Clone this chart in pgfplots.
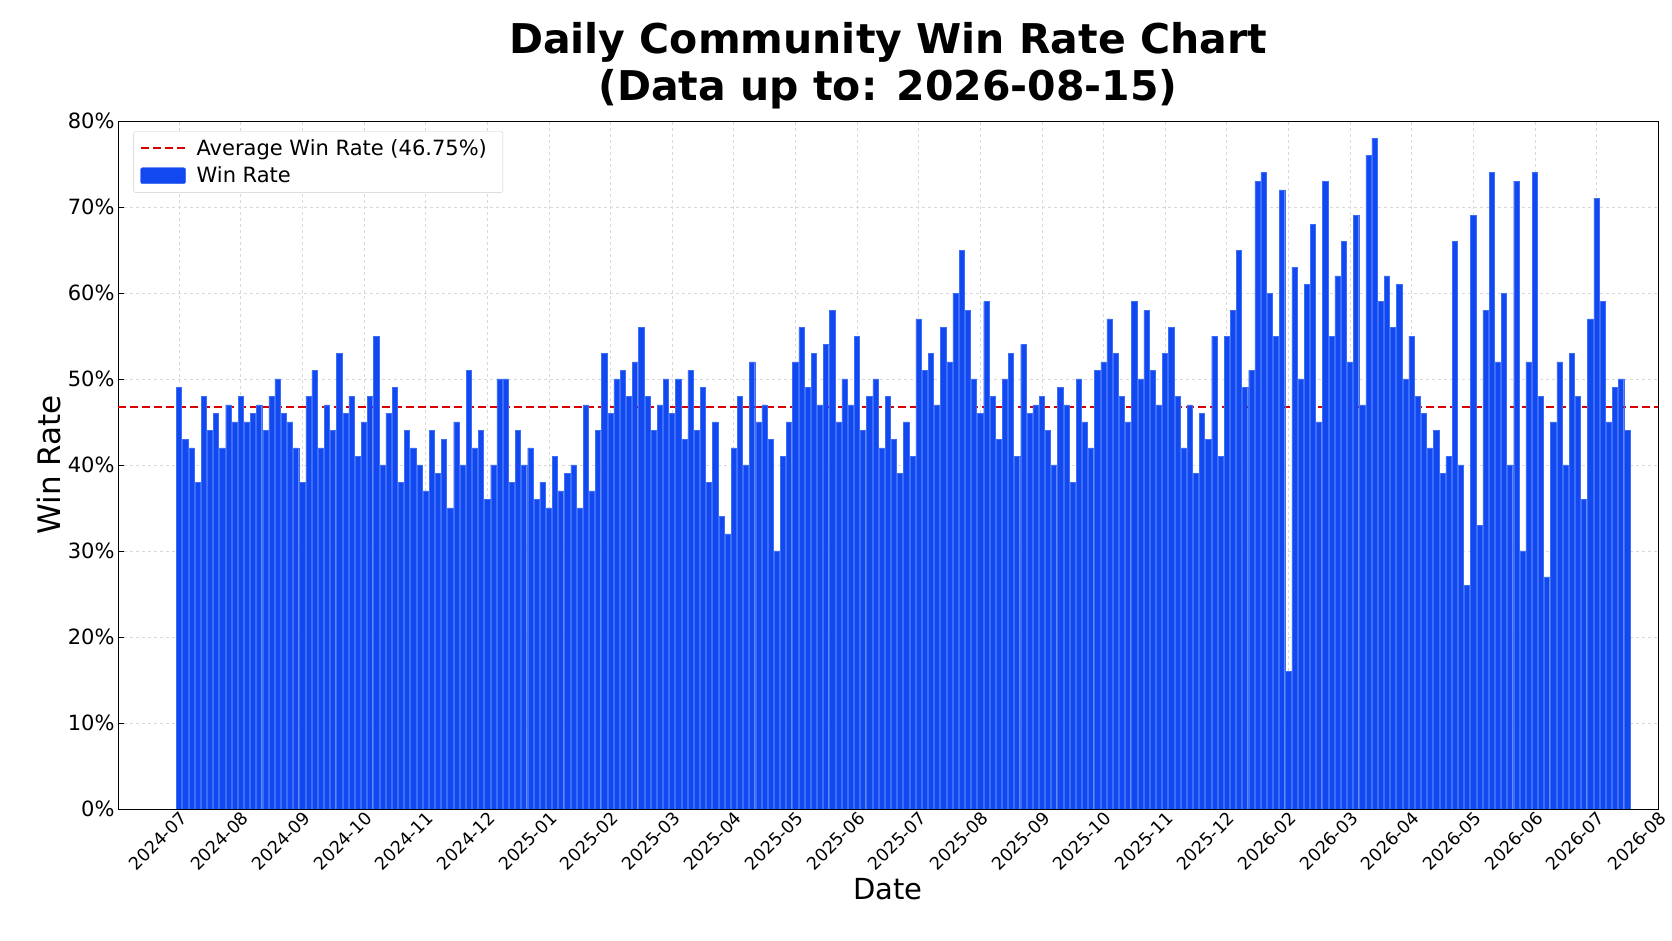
\documentclass[border=0pt]{standalone}
\usepackage{pgfplots}
\pgfplotsset{compat=1.18}
\usepackage{fontspec}
\setmainfont{DejaVu Sans}
\definecolor{barblue}{RGB}{18,72,240}
\definecolor{baredge}{RGB}{60,110,250}
\begin{document}
\begin{tikzpicture}[x=1pt,y=1pt]
\path (-118,-132) rectangle (1554,809);
\begin{axis}[at={(0,0)},anchor=south west,scale only axis,width=1540pt,height=688pt,
 xmin=-0.99,xmax=24,ymin=0,ymax=80,
 xtick={0,...,24},
 xticklabels={2024-07,2024-08,2024-09,2024-10,2024-11,2024-12,2025-01,2025-02,2025-03,2025-04,2025-05,2025-06,2025-07,2025-08,2025-09,2025-10,2025-11,2025-12,2026-02,2026-03,2026-04,2026-05,2026-06,2026-07,2026-08},
 xticklabel style={rotate=45,anchor=north east,font=\fontsize{17.5}{20}\selectfont,inner sep=1pt},
 ytick={0,10,...,80},
 yticklabel={\pgfmathprintnumber{\tick}\%},
 yticklabel style={font=\fontsize{21}{24}\selectfont},
 /pgf/number format/assume math mode=true,
 grid=major, major grid style={dashed,gray!30},
 tick style={black,line width=0.8pt}, major tick length=6pt,
 tick pos=left,
 xlabel={Date}, ylabel={Win Rate},
 xlabel style={font=\fontsize{29}{32}\selectfont,yshift=-2pt},
 ylabel style={font=\fontsize{31}{34}\selectfont},
 title={\textbf{Daily Community Win Rate Chart}\\\textbf{(Data up to: 2026-08-15)}},
 title style={align=center,font=\fontsize{41}{47}\selectfont,yshift=2pt},
 legend style={font=\fontsize{21}{26}\selectfont,draw=gray!40,rounded corners=2pt,inner sep=6pt,at={(0.01,0.985)},anchor=north west,row sep=6pt,nodes={inner xsep=10pt,inner ysep=2pt}},
 legend cell align=left,
 legend image code/.code={\draw[#1] (0pt,0pt) -- (45pt,0pt);},
 axis line style={line width=0.8pt},
]
\addplot[red!85!black,dash pattern=on 8pt off 4pt,line width=2pt] coordinates {(-0.99,46.75)(24,46.75)};
\addlegendentry{Average Win Rate (46.75\%)}
\addplot[ybar,bar width=0.085,fill=barblue,draw=baredge,line width=0.3pt,
 legend image code/.code={\fill[barblue] (0pt,-8pt) rectangle (45pt,8pt);}]
 table[x expr=\coordindex*0.1,y index=0,header=false] {
49
43
42
38
48
44
46
42
47
45
48
45
46
47
44
48
50
46
45
42
38
48
51
42
47
44
53
46
48
41
45
48
55
40
46
49
38
44
42
40
37
44
39
43
35
45
40
51
42
44
36
40
50
50
38
44
40
42
36
38
35
41
37
39
40
35
47
37
44
53
46
50
51
48
52
56
48
44
47
50
46
50
43
51
44
49
38
45
34
32
42
48
40
52
45
47
43
30
41
45
52
56
49
53
47
54
58
45
50
47
55
44
48
50
42
48
43
39
45
41
57
51
53
47
56
52
60
65
58
50
46
59
48
43
50
53
41
54
46
47
48
44
40
49
47
38
50
45
42
51
52
57
53
48
45
59
50
58
51
47
53
56
48
42
47
39
46
43
55
41
55
58
65
49
51
73
74
60
55
72
16
63
50
61
68
45
73
55
62
66
52
69
47
76
78
59
62
56
61
50
55
48
46
42
44
39
41
66
40
26
69
33
58
74
52
60
40
73
30
52
74
48
27
45
52
40
53
48
36
57
71
59
45
49
50
44
};
\addlegendentry{Win Rate}
\end{axis}
\end{tikzpicture}
\end{document}
